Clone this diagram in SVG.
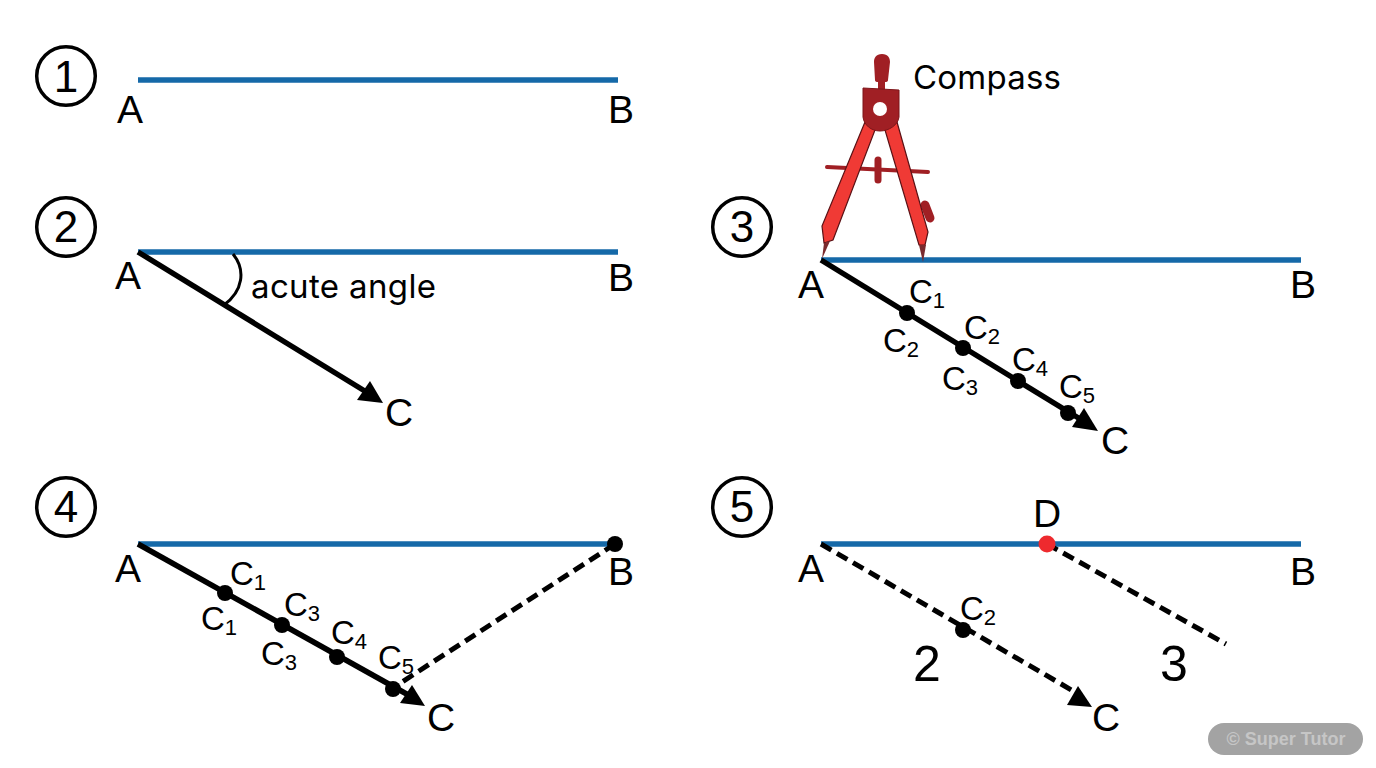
<svg xmlns="http://www.w3.org/2000/svg" width="1376" height="768" viewBox="0 0 1376 768">
<style>
text{font-family:"Liberation Sans",Arial,sans-serif;fill:#000}
.l{font-size:39px}.s{font-size:33px}.sub{font-size:22px}.n{font-size:44px}
.w{font-family:Inter,"Liberation Sans",sans-serif;font-size:33px}
.seg{stroke:#1569a8;stroke-width:5.5;fill:none}
.ray{stroke:#000;stroke-width:5.5;fill:none}
.dash{stroke:#000;stroke-width:5;fill:none;stroke-dasharray:12 6.5}
.num{fill:#fff;stroke:#000;stroke-width:3.5}
.head{fill:#000}
.dot{fill:#000}
</style>
<defs>
<circle id="d" r="8" class="dot"/>
</defs>
<rect width="1376" height="768" fill="#fff"/>
<g id="connectors">
<path class="seg" d="M138 80H618"/>
<path class="seg" d="M138 252H618"/>
<path class="ray" d="M138 252L368 393"/>
<path class="head" d="M383 403L357 400L370 381Z"/>
<path d="M233 254C246 270 243 291 224 305" fill="none" stroke="#000" stroke-width="3"/>
<path class="seg" d="M821 260H1301"/>
<path class="ray" d="M821 260L1085 422"/>
<path class="head" d="M1098 431L1072 427L1084 408Z"/>
<path class="seg" d="M138 544H612"/>
<path class="ray" d="M138 544L412 697"/>
<path class="head" d="M425 706L400 703L412 685Z"/>
<path class="dash" d="M615 544L402 682"/>
<path class="seg" d="M821 544H1301"/>
<path class="dash" d="M821 544L1080 695"/>
<path class="head" d="M1092 707L1067 705L1078 686Z"/>
<path class="dash" d="M1047 544L1226 644"/>
</g>
<g id="step1"><circle class="num" cx="66" cy="76" r="29.3"/><text class="n" x="66" y="92" text-anchor="middle">1</text>
<text class="l" x="130" y="123" text-anchor="middle">A</text><text class="l" x="621" y="123" text-anchor="middle">B</text></g>
<g id="step2"><circle class="num" cx="66" cy="227" r="29.3"/><text class="n" x="66" y="242" text-anchor="middle">2</text>
<text class="l" x="128" y="289" text-anchor="middle">A</text><text class="l" x="621" y="291" text-anchor="middle">B</text>
<text class="l" x="399" y="426" text-anchor="middle">C</text><text class="w" x="251" y="298" textLength="185">acute angle</text></g>
<g id="step3"><circle class="num" cx="742" cy="227" r="29.3"/><text class="n" x="742" y="242" text-anchor="middle">3</text>
<text class="l" x="811" y="298" text-anchor="middle">A</text><text class="l" x="1303" y="298" text-anchor="middle">B</text>
<text class="l" x="1115" y="454" text-anchor="middle">C</text>
<use href="#d" x="907" y="313"/><use href="#d" x="963" y="348"/><use href="#d" x="1018" y="381"/><use href="#d" x="1068" y="413"/>
<text class="s" x="909" y="303">C<tspan class="sub" dy="5">1</tspan></text>
<text class="s" x="883" y="352">C<tspan class="sub" dy="5">2</tspan></text>
<text class="s" x="964" y="339">C<tspan class="sub" dy="5">2</tspan></text>
<text class="s" x="942" y="390">C<tspan class="sub" dy="5">3</tspan></text>
<text class="s" x="1012" y="371">C<tspan class="sub" dy="5">4</tspan></text>
<text class="s" x="1059" y="398">C<tspan class="sub" dy="5">5</tspan></text></g>
<g id="compass">
<path d="M882 54C876 54 874 58 874 62L875 80Q875 82 878 82V90H885V82Q888 82 888 80L890 62C890 58 888 54 882 54Z" fill="#a01f24"/>
<path d="M827 167L928 172" stroke="#a01f24" stroke-width="4" stroke-linecap="round"/>
<path d="M878 160V180" stroke="#a01f24" stroke-width="7" stroke-linecap="round"/>
<path d="M925 205L930 218" stroke="#a01f24" stroke-width="9" stroke-linecap="round"/>
<path d="M865 122L875 130L833 240L824 243L822 226Z" fill="#f03a35" stroke="#5a1115" stroke-width="1.2"/>
<path d="M885 130L897 122L928 232L925 245L919 245Z" fill="#f03a35" stroke="#5a1115" stroke-width="1.2"/>
<path d="M824 243L830 241L822 259Z" fill="#7a2a2e"/>
<path d="M919 245L926 245L923 262Z" fill="#7a2a2e"/>
<path d="M863 88L899 90V117C898 125 889 131 880 131C871 131 864 125 863 117Z" fill="#a01f24" stroke="#7d1519"/>
<circle cx="880" cy="109" r="7" fill="#fff"/>
<text class="w" x="913" y="89" textLength="148">Compass</text>
</g>
<g id="step4"><circle class="num" cx="66" cy="507" r="29.3"/><text class="n" x="66" y="522" text-anchor="middle">4</text>
<text class="l" x="128" y="582" text-anchor="middle">A</text><text class="l" x="621" y="585" text-anchor="middle">B</text>
<text class="l" x="441" y="731" text-anchor="middle">C</text>
<use href="#d" x="615" y="544"/>
<use href="#d" x="225" y="593"/><use href="#d" x="282" y="625"/><use href="#d" x="337" y="657"/><use href="#d" x="393" y="689"/>
<text class="s" x="230" y="585">C<tspan class="sub" dy="5">1</tspan></text>
<text class="s" x="201" y="630">C<tspan class="sub" dy="5">1</tspan></text>
<text class="s" x="284" y="616">C<tspan class="sub" dy="5">3</tspan></text>
<text class="s" x="261" y="665">C<tspan class="sub" dy="5">3</tspan></text>
<text class="s" x="331" y="644">C<tspan class="sub" dy="5">4</tspan></text>
<text class="s" x="378" y="669">C<tspan class="sub" dy="5">5</tspan></text></g>
<g id="step5"><circle class="num" cx="742" cy="507" r="29.3"/><text class="n" x="742" y="522" text-anchor="middle">5</text>
<text class="l" x="811" y="582" text-anchor="middle">A</text><text class="l" x="1303" y="585" text-anchor="middle">B</text>
<text class="l" x="1106" y="731" text-anchor="middle">C</text><text class="l" x="1047" y="527" text-anchor="middle">D</text>
<circle cx="1047" cy="544" r="8.5" fill="#ee2a2e"/><use href="#d" x="963" y="630"/>
<text class="s" x="960" y="620">C<tspan class="sub" dy="5">2</tspan></text>
<text x="927" y="681" font-size="50" text-anchor="middle">2</text><text x="1174" y="681" font-size="50" text-anchor="middle">3</text></g>
<g id="badge"><rect x="1208" y="723" width="155" height="32" rx="16" fill="#a3a3a3"/>
<text x="1286" y="745" text-anchor="middle" style="fill:#c6c6c6" font-size="18" font-weight="700">© Super Tutor</text></g>
</svg>
